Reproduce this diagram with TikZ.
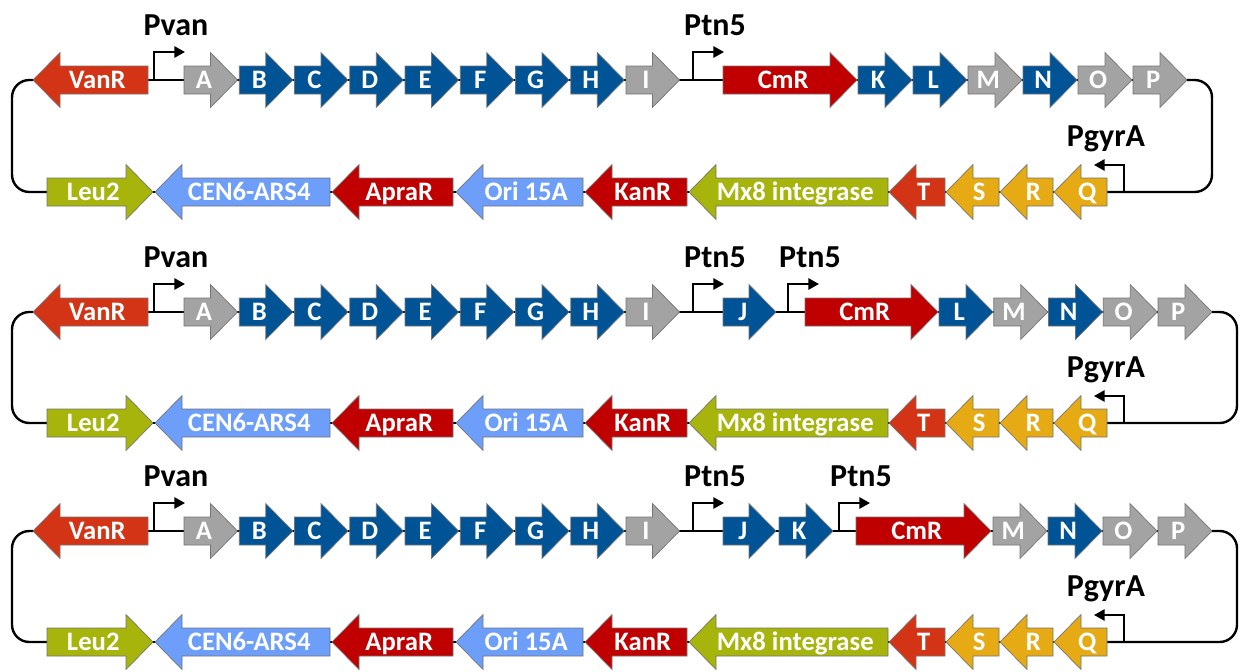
\documentclass[tikz,border=0pt]{standalone}
\usepackage{fontspec}
\setmainfont{Carlito}
\usetikzlibrary{arrows.meta,backgrounds}

\definecolor{vanred}{RGB}{212,52,22}
\definecolor{cmred}{RGB}{192,0,0}
\definecolor{genblue}{RGB}{0,84,150}
\definecolor{gengrey}{RGB}{163,163,163}
\definecolor{olive}{RGB}{166,180,12}
\definecolor{skyblue}{RGB}{108,158,250}
\definecolor{gold}{RGB}{230,170,20}

\tikzset{every picture/.style={line width=0.75pt}}
\tikzset{
  genebox/.style={draw=black!55,line width=0.5pt},
  genelabel/.style={text=white,font=\fontsize{20}{20}\selectfont\bfseries,inner sep=0pt,text height=12.9pt,text depth=0pt},
  promlabel/.style={text=black,font=\fontsize{24}{24}\selectfont\bfseries,anchor=base,inner sep=0.75pt},
  promoter/.style={line width=1.5pt,-{Triangle[length=8pt,width=8.5pt]}},
  backbone/.style={line width=1.5pt},
  loopline/.style={line width=1.8pt,rounded corners=13pt}
}

% gene pointing right: name, tail x, tip x, row y, colour, label
\newcommand{\fwdgene}[6]{%
  \draw[genebox,fill=#5] (#2,#4-14) -- (#3-27,#4-14) -- (#3-27,#4-27.5) -- (#3,#4) -- (#3-27,#4+27.5) -- (#3-27,#4+14) -- (#2,#4+14) -- cycle;
  \coordinate (#1-w) at (#2,#4);
  \coordinate (#1-e) at (#3,#4);
  \node[genelabel] (#1) at ({(#2+#3)/2-6.75},#4) {#6};
}
% gene pointing left: name, tip x, tail x, row y, colour, label
\newcommand{\revgene}[6]{%
  \draw[genebox,fill=#5] (#2,#4) -- (#2+27,#4-27.5) -- (#2+27,#4-14) -- (#3,#4-14) -- (#3,#4+14) -- (#2+27,#4+14) -- (#2+27,#4+27.5) -- cycle;
  \coordinate (#1-w) at (#2,#4);
  \coordinate (#1-e) at (#3,#4);
  \node[genelabel] (#1) at ({(#2+#3)/2+6.75},#4) {#6};
}
% promoters: name, x, row y, label
\newcommand{\promfwd}[4]{%
  \coordinate (#1-s) at (#2,#3);
  \draw[promoter] (#1-s) -- ++(0,-28) -- ++(31,0);
  \node[promlabel] (#1) at (#2+22,#3-45) {#4};
}
\newcommand{\promrev}[4]{%
  \coordinate (#1-s) at (#2,#3);
  \draw[promoter] (#1-s) -- ++(0,-27) -- ++(-30,0);
  \node[promlabel] (#1) at (#2-18,#3-46) {#4};
}

\begin{document}
\begin{tikzpicture}[x=0.75pt,y=0.75pt,yscale=-1,xscale=1]
\useasboundingbox (0,0) rectangle (1241,671);

%Shared parts of the three constructs
\foreach \p/\yt/\yb in {1/80/192, 2/312/423, 3/531/642} {
  %Top row, left half
  \revgene{VanR\p}{33}{148}{\yt}{vanred}{VanR}
  \promfwd{Pvan\p}{154}{\yt}{Pvan}
  \foreach \g/\c [count=\k from 0] in {A/gengrey,B/genblue,C/genblue,D/genblue,E/genblue,F/genblue,G/genblue,H/genblue,I/gengrey}
    {\fwdgene{\g\p}{184+55.25*\k}{184+55.25*\k+53.5}{\yt}{\c}{\g}}
  \promfwd{Ptn5\p}{693}{\yt}{Ptn5}
  %Bottom row
  \fwdgene{Leu\p}{47}{153}{\yb}{olive}{Leu2}
  \revgene{CEN\p}{155}{330}{\yb}{skyblue}{CEN6-ARS4}
  \revgene{Apra\p}{332}{453}{\yb}{cmred}{ApraR}
  \revgene{Ori\p}{456}{583}{\yb}{skyblue}{Ori 15A}
  \revgene{Kan\p}{585}{687}{\yb}{cmred}{KanR}
  \revgene{Mx\p}{689}{888}{\yb}{olive}{Mx8 integrase}
  \revgene{T\p}{889}{945}{\yb}{vanred}{T}
  \revgene{S\p}{946}{999}{\yb}{gold}{S}
  \revgene{R\p}{1000}{1053}{\yb}{gold}{R}
  \revgene{Q\p}{1054}{1107}{\yb}{gold}{Q}
  \promrev{PgyrA\p}{1124}{\yb}{PgyrA}
}

%Construct 1, top row right half
\fwdgene{CmR1}{723}{857}{80}{cmred}{CmR}
\foreach \g/\c [count=\k from 0] in {K/genblue,L/genblue,M/gengrey,N/genblue,O/gengrey,P/gengrey}
  {\fwdgene{\g1}{858+55*\k}{858+55*\k+54}{80}{\c}{\g}}

%Construct 2, top row right half
\fwdgene{J2}{723}{776}{312}{genblue}{J}
\promfwd{Ptn5b2}{788}{312}{Ptn5}
\fwdgene{CmR2}{805}{938}{312}{cmred}{CmR}
\foreach \g/\c [count=\k from 0] in {L/genblue,M/gengrey,N/genblue,O/gengrey,P/gengrey}
  {\fwdgene{\g2}{939+54.75*\k}{939+54.75*\k+54}{312}{\c}{\g}}

%Construct 3, top row right half
\fwdgene{J3}{723}{776}{531}{genblue}{J}
\fwdgene{K3}{779}{833}{531}{genblue}{K}
\promfwd{Ptn5b3}{839}{531}{Ptn5}
\fwdgene{CmR3}{856}{991}{531}{cmred}{CmR}
\foreach \g/\c [count=\k from 0] in {M/gengrey,N/genblue,O/gengrey,P/gengrey}
  {\fwdgene{\g3}{993+55*\k}{993+55*\k+54}{531}{\c}{\g}}

%Backbones and closing loops
\begin{scope}[on background layer]
\foreach \p in {1,2,3} {
  \draw[backbone] (VanR\p-w) -- (P\p-e);
  \draw[backbone] (Leu\p-w) -- (Q\p-e);
  \draw[loopline] (VanR\p-w) -- ++(-21,0) |- (Leu\p-w);
  \draw[loopline] (P\p-e) -- ++(25,0) |- (Q\p-e);
}
\end{scope}

\end{tikzpicture}
\end{document}
